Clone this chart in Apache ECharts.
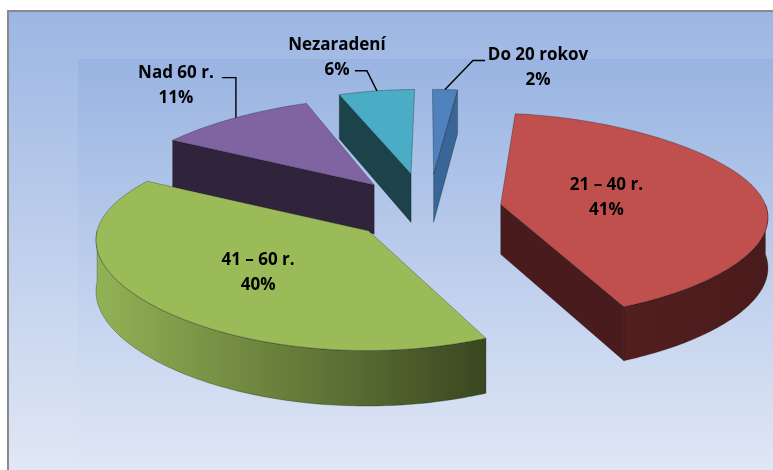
<!DOCTYPE html>
<html>
<head>
<meta charset="utf-8">
<script src="https://cdn.jsdelivr.net/npm/echarts@6/dist/echarts.min.js"></script>
<style>
  html, body { margin: 0; background: #fff; }
  #chart { width: 773px; height: 470px; }
</style>
</head>
<body>
<div id="chart"></div>
<script>
// data
const categories = ['Do 20 rokov', '21 – 40 r.', '41 – 60 r.', 'Nad 60 r.', 'Nezaradení'];
const shares = [2, 41, 40, 11, 6];

// look
const topColors = ['#4f81bd', '#c0504d', '#9bbb59', '#8064a2', '#4bacc6'];
const wallColors = [
  ['#3f6ea5', '#3a6697'],
  ['#521e1f', '#4a1b1c'],
  ['#93b255', '#3a4720'],
  ['#372a45', '#30243c'],
  ['#20505a', '#1c434a']
];
const explode = [94, 74, 80, 84, 95];
// inside labels: radius fraction; outside labels: offsets from arc anchor
const labelInside = [false, true, true, false, false];
const labelRadius = [0, 0.41, 0.54, 0, 0];
const labelOffset = [[93, -22], [0, 0], [0, 0], [-60, -32], [-40, -33]];
const leaderPath = [
  [[28, -29], [40, -29]],
  null,
  null,
  [[0, -40], [-14, -40]],
  [[-10, -20], [-22, -20]]
];

// projection of the tilted pie (back part shrinks a little)
const cx = 428, cy = 209, R = 266;
const rad = Math.PI / 180;

function shrink(Y) {
  return 1 - 0.085 * Math.log(1 + Math.exp(Y / 100)) + 0.085 * Math.LN2;
}
function depthAt(Y) {
  return 50 - 0.017 * Y;
}
function proj(X, Y, down) {
  return [cx + X * shrink(Y), cy - (0.39 * Y - 0.00016 * Y * Y) + (down ? depthAt(Y) : 0)];
}

const total = shares.reduce((a, b) => a + b, 0);
let acc = 0;
const sliceData = shares.map(v => {
  const a0 = acc / total * 360;
  acc += v;
  return [v, a0, acc / total * 360];
});

// back slices first
const depth = sliceData.map((d, i) => explode[i] * Math.cos((d[1] + d[2]) / 2 * rad));
const order = depth.map((y, i) => i).sort((a, b) => depth[b] - depth[a]);

const edge = { stroke: 'rgba(0,0,0,0.45)', lineWidth: 0.6 };

function renderSlice(params, api) {
  const i = params.dataIndex;
  const a0 = api.value(1), a1 = api.value(2);
  const mid = (a0 + a1) / 2;
  const c = [explode[i] * Math.sin(mid * rad), explode[i] * Math.cos(mid * rad)];
  const arcPt = t => [c[0] + R * Math.sin(t * rad), c[1] + R * Math.cos(t * rad)];
  const sample = (from, to) => {
    const n = Math.max(2, Math.ceil(to - from));
    const pts = [];
    for (let k = 0; k <= n; k++) pts.push(arcPt(from + (to - from) * k / n));
    return pts;
  };
  const arc = sample(a0, a1);
  const rank = order.indexOf(i);
  const top = [proj(c[0], c[1], 0)].concat(arc.map(p => proj(p[0], p[1], 0)));
  const wall = p => [proj(c[0], c[1], 0), proj(p[0], p[1], 0), proj(p[0], p[1], 1), proj(c[0], c[1], 1)];

  const children = [];
  // radial walls facing the viewer
  if (Math.sin(a0 * rad) < -1e-6) {
    children.push({ type: 'polygon', z2: 10 + rank, shape: { points: wall(arcPt(a0)) },
      style: Object.assign({ fill: wallColors[i][1] }, edge) });
  }
  if (Math.sin(a1 * rad) > 1e-6) {
    children.push({ type: 'polygon', z2: 10 + rank, shape: { points: wall(arcPt(a1)) },
      style: Object.assign({ fill: wallColors[i][1] }, edge) });
  }
  // front part of the outer wall
  const f0 = Math.max(a0, 90), f1 = Math.min(a1, 270);
  if (f1 > f0) {
    const fr = sample(f0, f1);
    const outer = fr.map(p => proj(p[0], p[1], 0))
      .concat(fr.slice().reverse().map(p => proj(p[0], p[1], 1)));
    children.push({ type: 'polygon', z2: 20 + rank, shape: { points: outer },
      style: Object.assign({
        fill: new echarts.graphic.LinearGradient(0, 0, 1, 0, [
          { offset: 0, color: wallColors[i][0] },
          { offset: 1, color: wallColors[i][1] }
        ])
      }, edge) });
  }
  children.push({ type: 'polygon', z2: 40 + rank, shape: { points: top },
    style: Object.assign({ fill: topColors[i] }, edge) });

  const textStyle = {
    text: categories[i] + '\n' + api.value(0) + '%',
    fill: '#000', fontFamily: 'Open Sans', fontWeight: 'bold', fontSize: 17,
    lineHeight: 25, align: 'center', verticalAlign: 'middle'
  };
  if (labelInside[i]) {
    const r = R * labelRadius[i];
    const p = proj(c[0] + r * Math.sin(mid * rad), c[1] + r * Math.cos(mid * rad), 0);
    children.push({ type: 'text', z2: 100, style: Object.assign({ x: p[0], y: p[1] }, textStyle) });
  } else {
    const m = arcPt(mid);
    const anchor = proj(m[0], m[1], 0);
    const pts = [anchor].concat(leaderPath[i].map(o => [anchor[0] + o[0], anchor[1] + o[1]]));
    children.push({ type: 'polyline', z2: 100, shape: { points: pts },
      style: { stroke: '#000', lineWidth: 1.4, fill: null } });
    children.push({ type: 'text', z2: 100, style: Object.assign({
      x: anchor[0] + labelOffset[i][0], y: anchor[1] + labelOffset[i][1] }, textStyle) });
  }
  return { type: 'group', children: children };
}

const chart = echarts.init(document.getElementById('chart'), null, { renderer: 'canvas' });
chart.setOption({
  animation: false,
  backgroundColor: '#fff',
  graphic: [
    { type: 'rect', z: -10, shape: { x: 8, y: 11, width: 800, height: 470 },
      style: {
        fill: new echarts.graphic.LinearGradient(0, 0, 0, 1, [
          { offset: 0, color: '#9cb6e3' }, { offset: 1, color: '#e2e8f5' }
        ]),
        stroke: '#8a8a8a', lineWidth: 2
      } },
    { type: 'rect', z: -9, shape: { x: 78, y: 59, width: 760, height: 430 },
      style: {
        fill: new echarts.graphic.LinearGradient(0, 0, 0, 1, [
          { offset: 0, color: '#99b4e2' }, { offset: 1, color: '#e3e9f6' }
        ])
      } }
  ],
  series: [{
    type: 'custom',
    coordinateSystem: 'none',
    renderItem: renderSlice,
    data: sliceData
  }]
});
</script>
</body>
</html>
